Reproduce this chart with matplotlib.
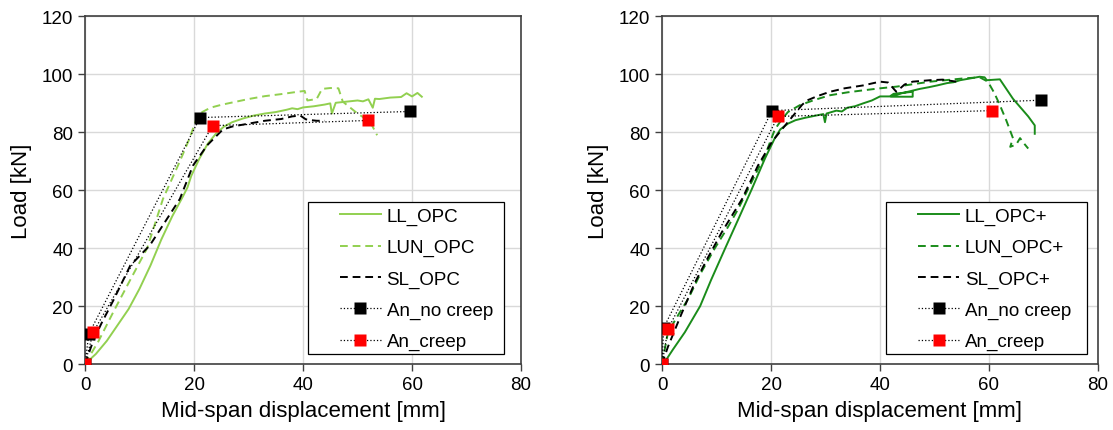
import matplotlib
matplotlib.use("Agg")
import matplotlib.pyplot as plt
from matplotlib.patches import Rectangle

plt.rcParams['font.family'] = ['Liberation Sans', 'DejaVu Sans']

# measured load-deflection curves, OPC beams
ll_opc_x = [0, 2, 4, 6, 8, 10, 12, 14, 16, 18, 18.8, 19.5, 21, 22.5, 24, 25.5, 27, 29, 31, 33, 35, 37, 38, 39, 40,
            42, 44, 45, 45.3, 46, 48, 50, 51, 52, 52.8, 53.2, 54, 56, 58, 59, 60, 61, 61.8]
ll_opc_y = [0, 3.5, 8, 13.5, 19, 26, 34, 43, 51, 58, 61, 65, 71, 76, 79.5, 82, 83.5, 84.8, 85.8, 86.5, 87, 87.8, 88.3,
            88, 88.6, 89, 89.6, 90, 86.5, 90.2, 90.6, 91, 90.7, 91.4, 88.5, 91.6, 91.5, 92, 92.2, 93.5, 92.4, 93.6, 92.3]

lun_opc_x = [0, 2.5, 5.2, 8, 11.4, 14.3, 17.4, 19.2, 20.5, 21.5, 23, 25, 27, 30, 33, 36, 39, 40.3, 40.8, 42.5, 43.5,
             45, 46.5, 47.3, 50, 52.3, 53.6]
lun_opc_y = [0, 8, 18, 28, 40, 57, 70, 78, 85, 87, 88.5, 89.5, 90.3, 91.5, 92.5, 93.2, 94, 94.3, 91, 91.5, 95,
             95.3, 95.2, 90.6, 86.5, 83.7, 79]

sl_opc_x = [0, 1.5, 3, 5.2, 8.3, 11.9, 15, 17.4, 19.8, 22.4, 25.3, 27, 30, 33, 36, 38, 39.5, 40.5, 41.5, 42.5, 44]
sl_opc_y = [0, 8, 14, 22, 34, 41, 50, 57, 68.5, 75.5, 81, 82, 83, 84, 84.6, 85.5, 85.8, 84.5, 84.2, 84, 84]

# measured curves, OPC+ beams
llp_x = [0, 0.5, 2, 4.2, 7, 9, 11.6, 14, 16.5, 18.9, 20.7, 21.7, 23.1, 24.5, 26.2, 28, 29.6, 29.9, 30.2, 32, 33,
         34, 35.4, 36.9, 38.5, 40, 41.8, 42.5, 46, 46, 42, 44, 47.3, 49, 50.5, 52.3, 53.5, 54.7, 56.5, 58.3, 59.2,
         59.6, 62, 64.4, 67.2, 68.4, 68.4]
llp_y = [0, 0.7, 5, 11, 20, 29, 40, 50, 60.5, 71, 78, 81, 83, 84.2, 85, 85.7, 86.3, 83.5, 86.5, 87.5, 87.2,
         88.5, 89, 90, 91, 92.4, 92.4, 93.3, 94, 92.3, 92.3, 93.5, 95, 95.6, 96.2, 97, 97.3, 98, 98.6, 99.2, 99,
         98, 98.3, 91.6, 85.5, 82.4, 79.5]

lunp_x = [0, 1.1, 3, 4.8, 7, 9.7, 12, 14, 17, 18.9, 20.7, 22, 23.1, 25.3, 28, 30.8, 34, 36.9, 40, 43.1, 46, 49.2,
          52, 55.2, 58.3, 59.8, 61, 62, 63.2, 64.4, 63.9, 65, 65.7, 66.5, 67.2]
lunp_y = [0, 11, 17, 22.5, 31, 40, 47, 53.6, 65, 72, 81, 84.5, 87, 89.4, 91.2, 92.8, 93.8, 94.5, 95.2, 95.8, 96.6,
          97.5, 98, 98.6, 99, 97.5, 93.5, 89.4, 84, 78, 75, 75.8, 78, 76, 74.4]

slp_x = [0, 1.1, 3.5, 6, 8.5, 11, 14.7, 17.6, 20.2, 22.6, 25.7, 26.6, 28.5, 30.8, 33.5, 36.9, 40, 41.5, 43, 44.5,
         46, 49.2, 51.5, 54]
slp_y = [0, 6, 17, 28, 37, 45.6, 57, 68.5, 76.8, 82.4, 89.5, 91, 92.5, 94, 95.2, 96.2, 97.5, 97.2, 94, 96.5,
         97.5, 98, 98.2, 97.5]

# analytical predictions (trilinear)
an_nc_left_x = [0, 0.7, 21.1, 59.6]
an_nc_left_y = [0, 10.4, 85.1, 87.2]
an_c_left_x = [0, 1.5, 23.4, 51.9]
an_c_left_y = [0, 11, 82.3, 84.1]

an_nc_right_x = [0, 0.3, 20.2, 69.5]
an_nc_right_y = [0, 12.5, 87.5, 91.1]
an_c_right_x = [0, 1.1, 21.3, 60.6]
an_c_right_y = [0, 12.1, 85.5, 87.5]

light_green = '#92d050'
dark_green = '#1a8c1a'
dash = (4, 2.5)

fig = plt.figure(figsize=(11.13, 4.31), dpi=100)
ax1 = fig.add_axes([0.0764, 0.1531, 0.3917, 0.8063])
ax2 = fig.add_axes([0.5948, 0.1531, 0.3917, 0.8063])


def draw_panel(ax, curves, an_nc, an_c, box):
    for x, y, c, ls, lab in curves:
        line, = ax.plot(x, y, color=c, lw=1.4, label=lab, zorder=3)
        if ls == 'dash':
            line.set_dashes(dash)
    ax.plot(an_nc[0], an_nc[1], ls=':', color='black', lw=0.9, marker='s', ms=8,
            mfc='black', mec='none', label='An_no creep', zorder=4)
    ax.plot(an_c[0], an_c[1], ls=':', color='black', lw=0.9, marker='s', ms=8,
            mfc='red', mec='none', label='An_creep', zorder=5)

    ax.set_xlim(0, 80)
    ax.set_ylim(0, 120)
    ax.set_xticks(range(0, 81, 20))
    ax.set_yticks(range(0, 121, 20))
    ax.grid(True, color='#d9d9d9', lw=1)
    ax.set_axisbelow(True)
    ax.tick_params(labelsize=13.5, length=5, width=1, color='#404040', direction='out')
    for s in ax.spines.values():
        s.set_color('#404040')
        s.set_linewidth(1.2)
    ax.set_xlabel('Mid-span displacement [mm]', fontsize=16, labelpad=5)
    ax.set_ylabel('Load [kN]', fontsize=16, labelpad=7)

    # legend frame drawn separately so the handles sit further in
    x0, y0, x1, y1 = box
    ax.add_patch(Rectangle((x0, y0), x1 - x0, y1 - y0, transform=ax.transAxes,
                           facecolor='white', edgecolor='black', lw=0.9, zorder=6))
    leg = ax.legend(loc='upper left', bbox_to_anchor=(x0 + 0.073, y1 - 0.017), frameon=False,
                    fontsize=13.5, handlelength=2.2, handletextpad=0.3, labelspacing=0.75,
                    borderpad=0, borderaxespad=0)
    leg.set_zorder(7)
    for h in leg.legend_handles:
        if h.get_linestyle() == '--':
            h.set_dashes(dash)


draw_panel(ax1,
           [(ll_opc_x, ll_opc_y, light_green, 'solid', 'LL_OPC'),
            (lun_opc_x, lun_opc_y, light_green, 'dash', 'LUN_OPC'),
            (sl_opc_x, sl_opc_y, 'black', 'dash', 'SL_OPC')],
           (an_nc_left_x, an_nc_left_y), (an_c_left_x, an_c_left_y),
           (0.511, 0.029, 0.961, 0.467))

draw_panel(ax2,
           [(llp_x, llp_y, dark_green, 'solid', 'LL_OPC+'),
            (lunp_x, lunp_y, dark_green, 'dash', 'LUN_OPC+'),
            (slp_x, slp_y, 'black', 'dash', 'SL_OPC+')],
           (an_nc_right_x, an_nc_right_y), (an_c_right_x, an_c_right_y),
           (0.514, 0.029, 0.975, 0.467))

fig.savefig('out.png', dpi=100)
